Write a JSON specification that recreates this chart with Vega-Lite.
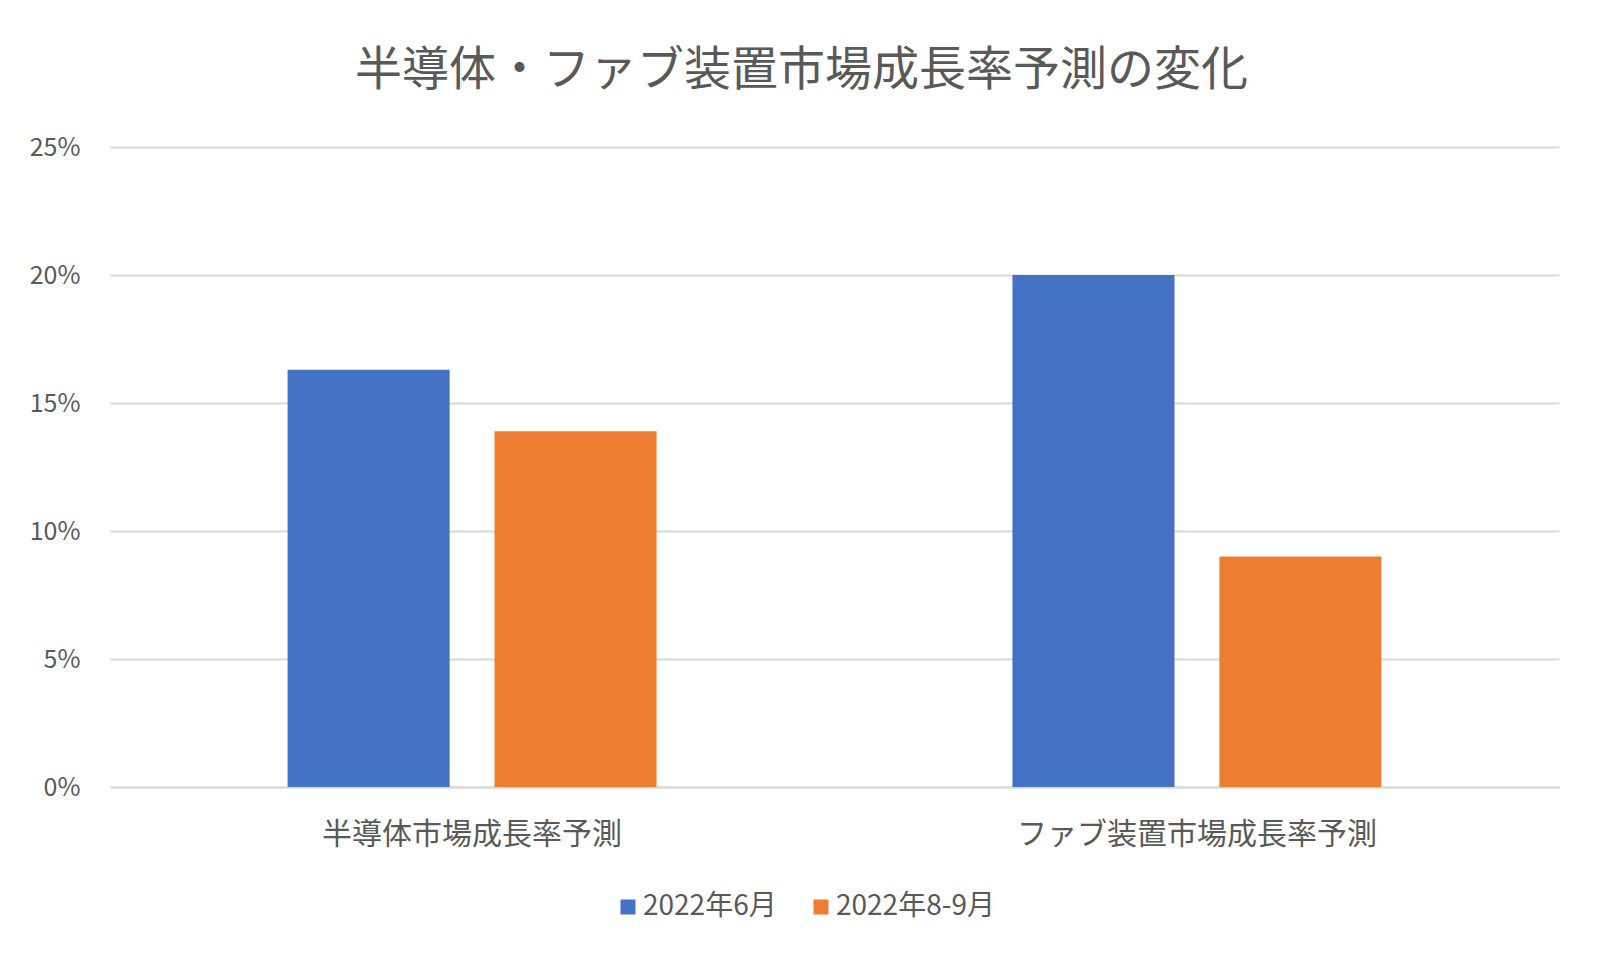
{
  "$schema": "https://vega.github.io/schema/vega-lite/v6.json",
  "width": 1449,
  "height": 640,
  "autosize": {"type": "none"},
  "padding": {"left": 110, "top": 147, "right": 41, "bottom": 175},
  "background": "#ffffff",
  "title": {
    "text": "半導体・ファブ装置市場成長率予測の変化",
    "font": "Noto Sans CJK JP",
    "fontSize": 47,
    "fontWeight": "normal",
    "color": "#595959",
    "anchor": "middle",
    "dx": -33,
    "offset": 40
  },
  "data": {
    "values": [
      {"category": "半導体市場成長率予測", "period": "2022年6月", "value": 0.163},
      {"category": "半導体市場成長率予測", "period": "2022年8-9月", "value": 0.139},
      {"category": "ファブ装置市場成長率予測", "period": "2022年6月", "value": 0.20},
      {"category": "ファブ装置市場成長率予測", "period": "2022年8-9月", "value": 0.09}
    ]
  },
  "mark": {"type": "bar"},
  "encoding": {
    "x": {
      "field": "category",
      "type": "nominal",
      "sort": null,
      "title": null,
      "scale": {"paddingInner": 0.491, "paddingOuter": 0.245},
      "axis": {
        "labelAngle": 0,
        "labelLimit": 0,
        "labelFont": "Noto Sans CJK JP",
        "labelFontSize": 30,
        "labelColor": "#595959",
        "labelPadding": 32,
        "ticks": false,
        "domain": true,
        "domainColor": "#D9D9D9",
        "domainWidth": 2,
        "grid": false
      }
    },
    "xOffset": {
      "field": "period",
      "type": "nominal",
      "scale": {"paddingInner": 0.217, "paddingOuter": 0}
    },
    "y": {
      "field": "value",
      "type": "quantitative",
      "title": null,
      "scale": {"domain": [0, 0.25], "nice": false},
      "axis": {
        "values": [0, 0.05, 0.1, 0.15, 0.2, 0.25],
        "format": ".0%",
        "labelFont": "Noto Sans CJK JP",
        "labelFontSize": 25,
        "labelColor": "#595959",
        "labelPadding": 30,
        "ticks": false,
        "domain": false,
        "grid": true,
        "gridColor": "#D9D9D9",
        "gridWidth": 2
      }
    },
    "color": {
      "field": "period",
      "type": "nominal",
      "scale": {"domain": ["2022年6月", "2022年8-9月"], "range": ["#4472C4", "#ED7D31"]},
      "legend": {
        "title": null,
        "orient": "none",
        "direction": "horizontal",
        "legendX": 504,
        "legendY": 746,
        "symbolType": "square",
        "symbolSize": 225,
        "symbolStrokeWidth": 0,
        "labelFont": "Noto Sans CJK JP",
        "labelFontSize": 28,
        "labelColor": "#595959",
        "labelOffset": 1,
        "columnPadding": 30
      }
    }
  },
  "config": {
    "view": {"stroke": null}
  }
}
